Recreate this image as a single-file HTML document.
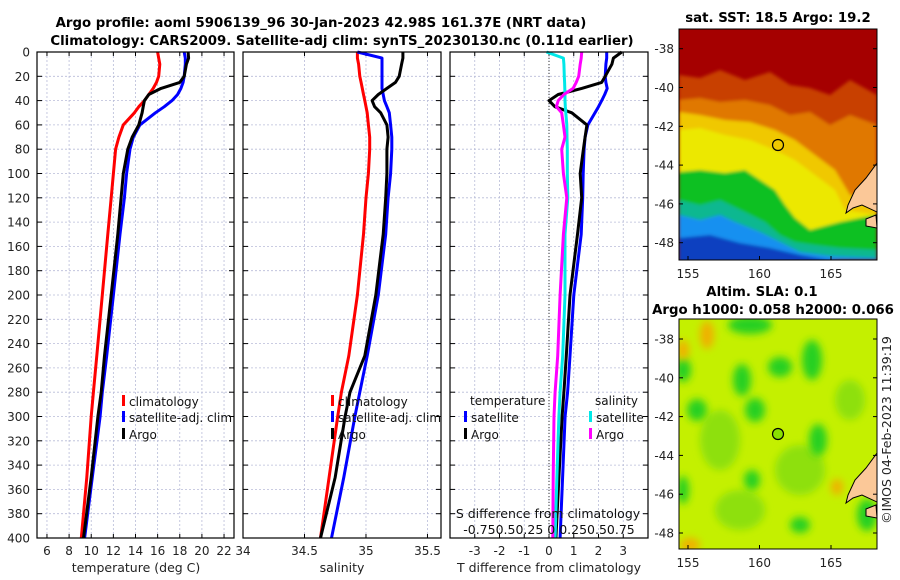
<!DOCTYPE html>
<html><head><meta charset="utf-8"><style>
html,body{margin:0;padding:0;background:#fff;}
svg{display:block;font-family:"DejaVu Sans","Liberation Sans",sans-serif;}
</style></head><body>
<svg id="fig" width="900" height="580" viewBox="0 0 900 580">
<defs>
<filter id="bl" x="-20%" y="-20%" width="140%" height="140%"><feGaussianBlur stdDeviation="4"/></filter>
<filter id="bl2" x="-20%" y="-20%" width="140%" height="140%"><feGaussianBlur stdDeviation="1.5"/></filter>
<clipPath id="c1"><rect x="679" y="29" width="198" height="231"/></clipPath>
<clipPath id="c2"><rect x="679" y="319" width="198" height="230"/></clipPath>
</defs>
<g font-weight="bold" font-size="13.3" text-anchor="middle">
<text x="321" y="27">Argo profile: aoml 5906139_96 30-Jan-2023 42.98S 161.37E (NRT data)</text>
<text x="342" y="45">Climatology: CARS2009. Satellite-adj clim: synTS_20230130.nc (0.11d earlier)</text>
</g>
<g id="panels"></g>

<!-- SST map -->
<g>
<text x="778" y="22" font-size="13.3" font-weight="bold" text-anchor="middle">sat. SST: 18.5 Argo: 19.2</text>
<g clip-path="url(#c1)">
<rect x="679" y="29" width="198" height="231" fill="#a50000"/>
<g filter="url(#bl2)">
<path d="M679,75 L700,78 L720,70 L745,80 L770,72 L790,85 L810,88 L830,95 L850,80 L877,95 L877,260 L679,260Z" fill="#c84000"/>
<path d="M679,100 L700,98 L720,102 L745,100 L770,105 L790,115 L810,112 L830,125 L850,115 L877,125 L877,260 L679,260Z" fill="#e07800"/>
<path d="M679,112 L700,115 L725,120 L750,122 L775,130 L795,140 L815,155 L835,170 L850,195 L877,200 L877,260 L679,260Z" fill="#f0c800"/>
<path d="M679,130 L700,128 L725,135 L750,140 L775,150 L795,160 L815,175 L835,190 L845,210 L877,215 L877,260 L679,260Z" fill="#ece800"/>
<path d="M679,172 L700,170 L725,173 L745,170 L760,180 L775,190 L785,205 L795,218 L810,230 L840,222 L860,218 L877,215 L877,260 L679,260Z" fill="#10c020"/>
<path d="M679,200 L700,205 L720,200 L745,212 L765,222 L780,235 L795,242 L815,245 L840,248 L877,250 L877,260 L679,260Z" fill="#10b890"/>
<path d="M679,215 L700,220 L720,215 L735,222 L760,232 L780,242 L800,252 L830,256 L877,258 L877,260 L679,260Z" fill="#1890f0"/>
<path d="M679,238 L710,235 L740,243 L770,248 L800,255 L840,262 L679,262Z" fill="#0a40c0"/>
</g>
<path d="M877,163 L866,178 L855,190 L848,205 L846,213 L853,208 L862,205 L877,212Z" fill="#fbc898" stroke="#000" stroke-width="1"/>
<path d="M866,219 L876,215 L877,228 L866,226Z" fill="#fbc898" stroke="#000" stroke-width="1"/>
</g>
<rect x="679" y="29" width="198" height="231" fill="none" stroke="#000" stroke-width="1"/>
<circle cx="778" cy="145" r="5.5" fill="none" stroke="#000" stroke-width="1.2"/>
</g>

<!-- SLA map -->
<g>
<text x="762" y="296" font-size="13.3" font-weight="bold" text-anchor="middle">Altim. SLA: 0.1</text>
<text x="773" y="314" font-size="13.3" font-weight="bold" text-anchor="middle">Argo h1000: 0.058 h2000: 0.066</text>
<g clip-path="url(#c2)">
<rect x="679" y="319" width="198" height="230" fill="#c4f000"/>
<g fill="#8ee010" filter="url(#bl)">
<ellipse cx="720" cy="440" rx="20" ry="30"/><ellipse cx="800" cy="470" rx="25" ry="25"/>
<ellipse cx="740" cy="510" rx="25" ry="20"/><ellipse cx="850" cy="400" rx="15" ry="20"/>
</g>
<g fill="#28d020" filter="url(#bl)">
<ellipse cx="750" cy="325" rx="22" ry="9"/><ellipse cx="683" cy="370" rx="8" ry="12"/>
<ellipse cx="697" cy="410" rx="10" ry="11"/><ellipse cx="742" cy="380" rx="9" ry="16"/>
<ellipse cx="755" cy="410" rx="10" ry="12"/><ellipse cx="780" cy="367" rx="12" ry="10"/>
<ellipse cx="812" cy="360" rx="10" ry="20"/><ellipse cx="818" cy="440" rx="9" ry="16"/>
<ellipse cx="867" cy="515" rx="10" ry="16"/><ellipse cx="683" cy="490" rx="6" ry="14"/>
<ellipse cx="752" cy="480" rx="8" ry="10"/><ellipse cx="800" cy="525" rx="10" ry="8"/>
</g>
<g fill="#f0b000" filter="url(#bl)">
<ellipse cx="707" cy="335" rx="7" ry="14"/><ellipse cx="683" cy="350" rx="6" ry="10"/>
<ellipse cx="690" cy="545" rx="10" ry="7"/><ellipse cx="837" cy="487" rx="6" ry="8"/>
</g>
<path d="M877,453 L866,468 L855,480 L848,495 L846,503 L853,498 L862,495 L877,502Z" fill="#fbc898" stroke="#000" stroke-width="1"/>
<path d="M866,509 L876,505 L877,518 L866,516Z" fill="#fbc898" stroke="#000" stroke-width="1"/>
</g>
<rect x="679" y="319" width="198" height="230" fill="none" stroke="#000" stroke-width="1"/>
<circle cx="778" cy="434" r="5.5" fill="#8ae000" stroke="#000" stroke-width="1.2"/>
</g>
<g id="maps-axes"></g>
<text transform="translate(891,430) rotate(-90)" font-size="12.5" text-anchor="middle" fill="#222">©IMOS 04-Feb-2023 11:39:19</text>
</svg>
<script>
const depths = [0,5,10,20,25,30,35,40,45,50,60,70,80,100,120,150,200,250,280,300,350,400];
const climT = [16.0,16.1,16.2,16.1,15.9,15.6,15.2,14.8,14.3,13.9,12.9,12.5,12.2,12.0,11.8,11.5,11.0,10.5,10.2,10.0,9.6,9.1];
const satT  = [18.4,18.5,18.5,18.4,18.3,18.1,17.8,17.3,16.6,15.8,14.4,13.8,13.5,13.2,13.0,12.6,12.0,11.4,11.0,10.8,10.1,9.4];
const argoT = [18.75,18.8,18.6,18.4,18.0,16.3,15.2,14.8,14.7,14.6,14.3,13.7,13.3,12.9,12.7,12.4,11.8,11.2,10.9,10.6,10.0,9.3];
const climS = [34.93,34.93,34.94,34.95,34.96,34.97,34.98,34.99,35.0,35.01,35.02,35.03,35.03,35.02,35.0,34.98,34.93,34.86,34.80,34.77,34.70,34.63];
const satS  = [34.93,35.13,35.13,35.13,35.13,35.13,35.14,35.15,35.17,35.19,35.20,35.21,35.21,35.20,35.18,35.16,35.10,35.01,34.95,34.91,34.82,34.72];
const argoS = [35.30,35.30,35.29,35.27,35.24,35.17,35.10,35.05,35.07,35.12,35.17,35.18,35.17,35.17,35.16,35.14,35.08,34.99,34.87,34.83,34.75,34.63];
const satTdiff  = [2.33,2.33,2.3,2.27,2.3,2.35,2.25,2.13,2.0,1.86,1.57,1.46,1.42,1.38,1.36,1.3,1.0,0.85,0.75,0.65,0.55,0.45];
const argoTdiff = [2.94,2.6,2.54,2.27,2.13,1.32,0.37,0.0,0.24,0.92,1.53,1.46,1.39,1.26,1.32,1.15,0.85,0.7,0.6,0.53,0.4,0.28];
const satSdiff  = [-0.025,0.145,0.15,0.155,0.158,0.16,0.162,0.162,0.165,0.17,0.18,0.182,0.185,0.185,0.19,0.162,0.162,0.138,0.112,0.1,0.08,0.062];
const argoSdiff = [0.33,0.325,0.315,0.3,0.275,0.243,0.15,0.093,0.075,0.128,0.145,0.162,0.128,0.145,0.18,0.145,0.112,0.088,0.062,0.05,0.042,0.038];
const depthTicks = [0,20,40,60,80,100,120,140,160,180,200,220,240,260,280,300,320,340,360,380,400];
const tTicks = [6,8,10,12,14,16,18,20,22];
const sTicks = [34,34.5,35,35.5];
const dTicks = [-3,-2,-1,0,1,2,3];
const latTicks = [-38,-40,-42,-44,-46,-48];
const lonTicks = [155,160,165];

const NS='http://www.w3.org/2000/svg';
const root=document.getElementById('panels');
function mk(tag,attrs,parent,text){const e=document.createElementNS(NS,tag);for(const k in attrs)e.setAttribute(k,attrs[k]);if(text!==undefined)e.textContent=text;(parent||root).appendChild(e);return e;}
const Y0=52,Y1=538;
const y=d=>Y0+(d/400)*(Y1-Y0);
const P=[{x0:37,x1:234,v0:5.1,v1:22.9},{x0:243,x1:441,v0:34,v1:35.61},{x0:450,x1:648,v0:-4,v1:4}];
const sx=(i,v)=>P[i].x0+(v-P[i].v0)/(P[i].v1-P[i].v0)*(P[i].x1-P[i].x0);

function grid(i,ticks,fmt,g){
  ticks.forEach(t=>{const X=sx(i,t);
    const l=mk('line',{x1:X,x2:X,y1:Y0,y2:Y1,stroke:'#b8bcd8','stroke-width':0.8,'stroke-dasharray':'2,2'},g);
    
    mk('line',{x1:X,x2:X,y1:Y1,y2:Y1-4,stroke:'#000'},g);mk('line',{x1:X,x2:X,y1:Y0,y2:Y0+4,stroke:'#000'},g);
    const tx=mk('text',{x:X,y:555,'font-size':12,'text-anchor':'middle',fill:'#222'},g,fmt(t));
    
  });
  depthTicks.forEach(d=>{
    mk('line',{x1:P[i].x0,x2:P[i].x1,y1:y(d),y2:y(d),stroke:'#b8bcd8','stroke-width':0.8,'stroke-dasharray':'2,2'},g);
    mk('line',{x1:P[i].x0,x2:P[i].x0+5,y1:y(d),y2:y(d),stroke:'#000'},g);
    mk('line',{x1:P[i].x1,x2:P[i].x1-5,y1:y(d),y2:y(d),stroke:'#000'},g);
  });
}
function line(i,vals,color,name,g){
  const pts=vals.map((v,k)=>sx(i,v).toFixed(1)+','+y(depths[k]).toFixed(1)).join(' ');
  const p=mk('polyline',{points:pts,fill:'none',stroke:color,'stroke-width':3,'stroke-linejoin':'round'},g);
  
}
function frame(i,g){mk('rect',{x:P[i].x0,y:Y0,width:P[i].x1-P[i].x0,height:Y1-Y0,fill:'none',stroke:'#000','stroke-width':1.2},g);}
function legItem(x,yy,color,label,g,name){
  mk('rect',{x:x,y:yy-11,width:3,height:11,fill:color},g);
  const t=mk('text',{x:x+7,y:yy,'font-size':12,fill:'#111'},g,label);
  
}
// Panel 1
let g1=mk('g',{});
grid(0,tTicks,t=>String(t),g1);
depthTicks.forEach(d=>{const t=mk('text',{x:30,y:y(d)+4.5,'font-size':12,'text-anchor':'end',fill:'#222'},g1,String(d));});
line(0,climT,'#ff0000','temp-climatology-line',g1);
line(0,satT,'#0000ff','temp-satellite-line',g1);
line(0,argoT,'#000','temp-argo-line',g1);
frame(0,g1);
legItem(122,406,'#ff0000','climatology',g1,'legend-climatology');
legItem(122,422,'#0000ff','satellite-adj. clim',g1,'legend-satellite');
legItem(122,439,'#000','Argo',g1,'legend-argo');
let xt=mk('text',{x:136,y:572,'font-size':12.5,'text-anchor':'middle',fill:'#222'},g1,'temperature (deg C)');
// Panel 2
let g2=mk('g',{});
grid(1,sTicks,t=>String(t),g2);
line(1,climS,'#ff0000','sal-climatology-line',g2);
line(1,satS,'#0000ff','sal-satellite-line',g2);
line(1,argoS,'#000','sal-argo-line',g2);
frame(1,g2);
legItem(331,406,'#ff0000','climatology',g2,'legend-climatology-2');
legItem(331,422,'#0000ff','satellite-adj. clim',g2,'legend-satellite-2');
legItem(331,439,'#000','Argo',g2,'legend-argo-2');
xt=mk('text',{x:342,y:572,'font-size':12.5,'text-anchor':'middle',fill:'#222'},g2,'salinity');
// Panel 3
let g3=mk('g',{});
grid(2,dTicks,t=>t<0?'-'+Math.abs(t):String(t),g3);
mk('line',{x1:sx(2,0),x2:sx(2,0),y1:Y0,y2:Y1,stroke:'#333','stroke-width':1,'stroke-dasharray':'1,2'},g3);
line(2,satTdiff,'#0000ff','tdiff-satellite-line',g3);
line(2,argoTdiff,'#000','tdiff-argo-line',g3);
line(2,satSdiff.map(v=>v*4),'#00e8e8','sdiff-satellite-line',g3);
line(2,argoSdiff.map(v=>v*4),'#ff00ff','sdiff-argo-line',g3);
frame(2,g3);
let lt=mk('text',{x:470,y:405,'font-size':12,fill:'#111'},g3,'temperature');
lt=mk('text',{x:595,y:405,'font-size':12,fill:'#111'},g3,'salinity');
legItem(464,422,'#0000ff','satellite',g3,'legend-t-satellite');
legItem(464,439,'#000','Argo',g3,'legend-t-argo');
legItem(589,422,'#00e8e8','satellite',g3,'legend-s-satellite');
legItem(589,439,'#ff00ff','Argo',g3,'legend-s-argo');
lt=mk('text',{x:548,y:518,'font-size':12.5,'text-anchor':'middle',fill:'#111'},g3,'S difference from climatology');
lt=mk('text',{x:549,y:534,'font-size':12.5,'text-anchor':'middle',fill:'#111'},g3,'-0.750.50.25 0 0.250.50.75');
xt=mk('text',{x:549,y:572,'font-size':12.5,'text-anchor':'middle',fill:'#222'},g3,'T difference from climatology');
// Map axes
const ma=document.getElementById('maps-axes');
const lonX=l=>688+(l-155)*14.3;
[[29,260,48.7],[319,549,339]].forEach(([t,b,y38])=>{
  latTicks.forEach(la=>{const Y=y38+(-38-la)*19.4;
    mk('line',{x1:679,x2:683,y1:Y,y2:Y,stroke:'#000'},ma);mk('line',{x1:877,x2:873,y1:Y,y2:Y,stroke:'#000'},ma);
    const tx=mk('text',{x:674,y:Y+4.5,'font-size':12,'text-anchor':'end',fill:'#222'},ma,String(la));
    });
  lonTicks.forEach(lo=>{const X=lonX(lo);
    mk('line',{x1:X,x2:X,y1:b,y2:b-4,stroke:'#000'},ma);
    const tx=mk('text',{x:X,y:b+18,'font-size':12,'text-anchor':'middle',fill:'#222'},ma,String(lo));
    });
});
</script>
</body></html>
